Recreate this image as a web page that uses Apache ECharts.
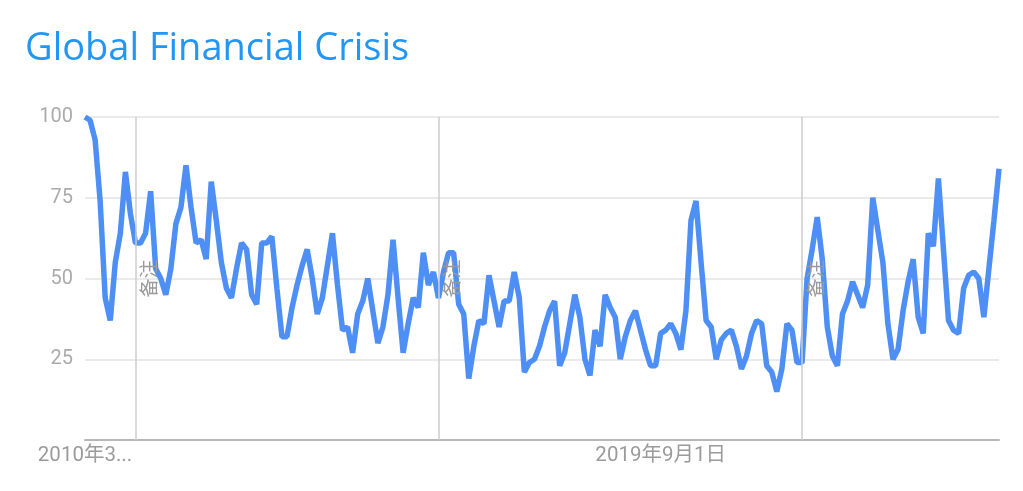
<!DOCTYPE html>
<html>
<head>
<meta charset="utf-8">
<script src="https://cdn.jsdelivr.net/npm/echarts@6/dist/echarts.min.js"></script>
<style>
html,body{margin:0;padding:0;background:#fff;}
#chart{width:1023px;height:491px;}
</style>
</head>
<body>
<div id="chart"></div>
<script>
// Monthly categories: 2010-03 .. 2025-04
const startYear = 2010, startMonth = 3, monthCount = 182;
const categories = [];
for (let k = 0; k < monthCount; k++) {
  const m0 = startMonth - 1 + k;
  categories.push((startYear + Math.floor(m0 / 12)) + '年' + (m0 % 12 + 1) + '月1日');
}

const values = [
  100, 99, 93, 74, 44, 37, 55, 64, 83, 70,
  61, 61, 64, 77, 53, 50, 45, 53, 67, 72,
  85, 72, 61, 62, 56, 80, 68, 55, 47, 44,
  53, 61, 59, 45, 42, 61, 61, 63, 47, 32,
  32, 41, 48, 54, 59, 50, 39, 44, 54, 64,
  48, 34, 35, 27, 39, 43, 50, 40, 30, 35,
  45, 62, 44, 27, 36, 44, 41, 58, 48, 52,
  44, 52, 58, 58, 42, 39, 19, 29, 37, 36,
  51, 43, 35, 43, 43, 52, 44, 21, 24, 25,
  29, 35, 40, 43, 23, 27, 36, 45, 38, 25,
  20, 34, 29, 45, 41, 38, 25, 32, 37, 40,
  34, 28, 23, 23, 33, 34, 36, 33, 28, 40,
  68, 74, 55, 37, 35, 25, 31, 33, 34, 29,
  22, 26, 33, 37, 36, 23, 21, 15, 22, 36,
  34, 24, 24, 50, 59, 69, 56, 35, 26, 23,
  39, 43, 49, 45, 41, 48, 75, 65, 55, 36,
  25, 28, 40, 49, 56, 38, 33, 64, 60, 81,
  59, 37, 34, 33, 47, 51, 52, 50, 38, 53,
  68, 84
];

const xTickIndices = [0, 114];
const xTickTexts = ['2010年3...', '2019年9月1日'];
const yMin = 0, yMax = 100, yInterval = 25;
const annotationDates = ['2011年1月1日', '2016年1月1日', '2022年1月1日'];
const annotationText = '备注';
const titleText = 'Global Financial Crisis';

const chart = echarts.init(document.getElementById('chart'), null, {renderer: 'canvas'});
const labelFont = 'Roboto, "Noto Sans CJK SC", sans-serif';

chart.setOption({
  animation: false,
  backgroundColor: '#ffffff',
  title: {
    text: titleText,
    left: 20,
    top: 25,
    textStyle: {
      color: '#2196f3',
      fontFamily: '"Open Sans", "Noto Sans", sans-serif',
      fontWeight: 'normal',
      fontSize: 38
    }
  },
  grid: {left: 85, right: 24, top: 117, bottom: 51, containLabel: false},
  xAxis: {
    type: 'category',
    boundaryGap: false,
    data: categories,
    axisLine: {show: true, lineStyle: {color: '#b8b8b8', width: 2}},
    axisTick: {show: false},
    splitLine: {show: false},
    axisLabel: {
      interval: function (index) { return xTickIndices.indexOf(index) >= 0; },
      formatter: function (value, index) {
        const p = xTickIndices.indexOf(index);
        return p >= 0 ? xTickTexts[p] : '';
      },
      color: '#9b9b9b',
      fontFamily: labelFont,
      fontSize: 20.5,
      margin: 6,
      hideOverlap: false
    }
  },
  yAxis: {
    type: 'value',
    min: yMin,
    max: yMax,
    interval: yInterval,
    axisLine: {show: false},
    axisTick: {show: false},
    splitLine: {show: true, lineStyle: {color: '#e3e3e3', width: 1.5}},
    axisLabel: {
      formatter: function (v) { return v === 0 ? '' : String(v); },
      color: '#ababab',
      fontFamily: labelFont,
      fontSize: 20,
      margin: 12
    }
  },
  series: [
    {
      name: 'notes-lines',
      type: 'line',
      data: [],
      z: 1,
      silent: true,
      markLine: {
        silent: true,
        symbol: ['none', 'none'],
        animation: false,
        lineStyle: {color: '#cdcdcd', width: 1.5, type: 'solid'},
        label: {show: false},
        emphasis: {disabled: true},
        data: annotationDates.map(function (d) { return {xAxis: d}; })
      }
    },
    {
      name: 'Global Financial Crisis',
      type: 'line',
      data: values,
      z: 3,
      symbol: 'none',
      showSymbol: false,
      smooth: false,
      lineStyle: {color: '#4e8ff6', width: 5.5},
      itemStyle: {color: '#4e8ff6'},
      emphasis: {disabled: true}
    },
    {
      name: 'notes-labels',
      type: 'line',
      data: [],
      z: 4,
      silent: true,
      markLine: {
        silent: true,
        symbol: ['none', 'none'],
        animation: false,
        lineStyle: {color: 'rgba(0,0,0,0)', width: 1},
        label: {
          show: true,
          formatter: annotationText,
          position: 'insideMiddleBottom',
          distance: 4,
          color: '#9a9a9a',
          fontSize: 19,
          fontFamily: '"Noto Sans CJK SC", sans-serif'
        },
        emphasis: {disabled: true},
        data: annotationDates.map(function (d) { return {xAxis: d}; })
      }
    }
  ]
});
</script>
</body>
</html>
